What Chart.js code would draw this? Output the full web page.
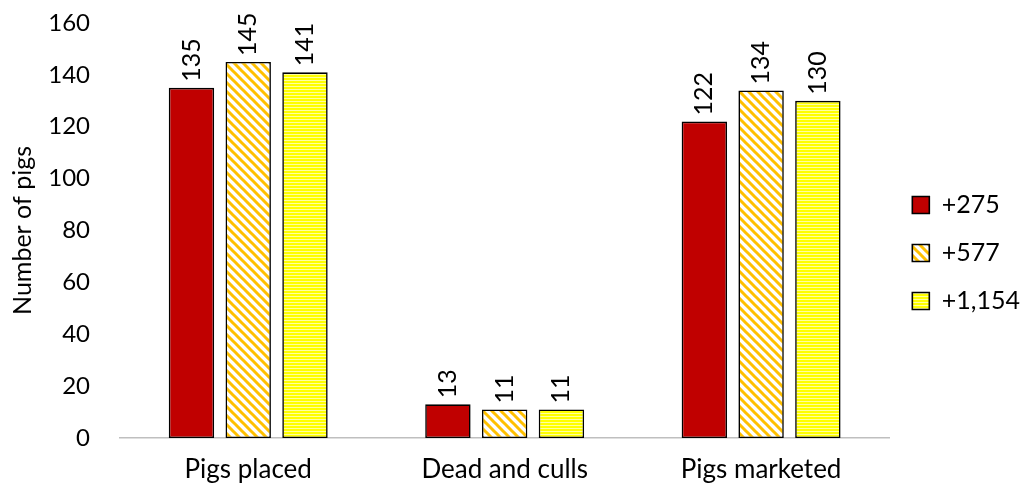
<!DOCTYPE html>
<html lang="en">
<head>
<meta charset="UTF-8">
<title>Pigs</title>
<script src="https://cdn.jsdelivr.net/npm/chart.js"></script>
<style>
  html, body { margin: 0; padding: 0; background: #fff; }
  #wrap { width: 1026px; height: 493px; }
</style>
</head>
<body>
<div id="wrap"><canvas id="barra"></canvas></div>
<script>
const categorias = ['Pigs placed', 'Dead and culls', 'Pigs marketed'];
const series = ['+275', '+577', '+1,154'];
const valores275 = [135, 13, 122];
const valores577 = [145, 11, 134];
const valores1154 = [141, 11, 130];

const fonte = 'Lato, "Liberation Sans", sans-serif';
const tam = 25;

// padrões de preenchimento
function listrasDiagonais() {
  const c = document.createElement('canvas');
  c.width = 9; c.height = 9;
  const g = c.getContext('2d');
  g.fillStyle = '#fff';
  g.fillRect(0, 0, 9, 9);
  g.strokeStyle = '#FFC000';
  g.lineWidth = 3;
  g.beginPath();
  g.moveTo(-2, -2); g.lineTo(11, 11);
  g.moveTo(-7, 2); g.lineTo(2, 11);
  g.moveTo(7, -2); g.lineTo(16, 7);
  g.stroke();
  return g.createPattern(c, 'repeat');
}

function listrasHorizontais() {
  const c = document.createElement('canvas');
  c.width = 4; c.height = 3;
  const g = c.getContext('2d');
  g.fillStyle = '#FFFF00';
  g.fillRect(0, 0, 4, 3);
  g.fillStyle = '#FFFFA0';
  g.fillRect(0, 2, 4, 1);
  return g.createPattern(c, 'repeat');
}

// rótulos verticais acima das barras
const rotulos = {
  id: 'rotulos',
  afterDatasetsDraw(chart) {
    const ctx = chart.ctx;
    ctx.save();
    ctx.font = tam + 'px ' + fonte;
    ctx.fillStyle = '#000';
    ctx.textAlign = 'left';
    ctx.textBaseline = 'middle';
    chart.data.datasets.forEach((ds, i) => {
      chart.getDatasetMeta(i).data.forEach((bar, j) => {
        ctx.save();
        ctx.translate(bar.x, bar.y - 6);
        ctx.rotate(-Math.PI / 2);
        ctx.fillText(ds.data[j], 0, 0);
        ctx.restore();
      });
    });
    ctx.restore();
  }
};

const config = {
  type: 'bar',
  data: {
    labels: categorias,
    datasets: [
      { label: series[0], data: valores275, backgroundColor: '#C00000' },
      { label: series[1], data: valores577, backgroundColor: listrasDiagonais() },
      { label: series[2], data: valores1154, backgroundColor: listrasHorizontais() }
    ].map(d => Object.assign(d, {
      borderColor: '#000', borderWidth: 1.6, borderSkipped: false,
      categoryPercentage: 0.664, barPercentage: 0.8
    }))
  },
  options: {
    responsive: true,
    maintainAspectRatio: false,
    animation: false,
    layout: { padding: { top: 23, right: -4, left: 4, bottom: 10 } },
    plugins: {
      legend: {
        position: 'right',
        labels: {
          font: { family: fonte, size: tam },
          color: '#000',
          boxWidth: 17, boxHeight: 17,
          padding: 23
        }
      },
      tooltip: { enabled: false }
    },
    scales: {
      x: {
        grid: { display: false, drawTicks: false },
        border: { color: '#BFBFBF', width: 1.5 },
        ticks: { font: { family: fonte, size: 26 }, color: '#000', padding: 16 },
        afterFit(s) { s.height = 45; s.paddingLeft = 0; s.paddingRight = 0; }
      },
      y: {
        min: 0, max: 160,
        grid: { display: false },
        border: { display: false },
        ticks: { stepSize: 20, font: { family: fonte, size: 24 }, color: '#000', padding: 22 },
        title: { display: true, text: 'Number of pigs', font: { family: fonte, size: tam }, color: '#000' },
        afterFit(s) { s.width = 116; s.paddingTop = 0; s.paddingBottom = 0; }
      }
    }
  },
  plugins: [rotulos]
};

new Chart(document.getElementById('barra'), config);
</script>
</body>
</html>
